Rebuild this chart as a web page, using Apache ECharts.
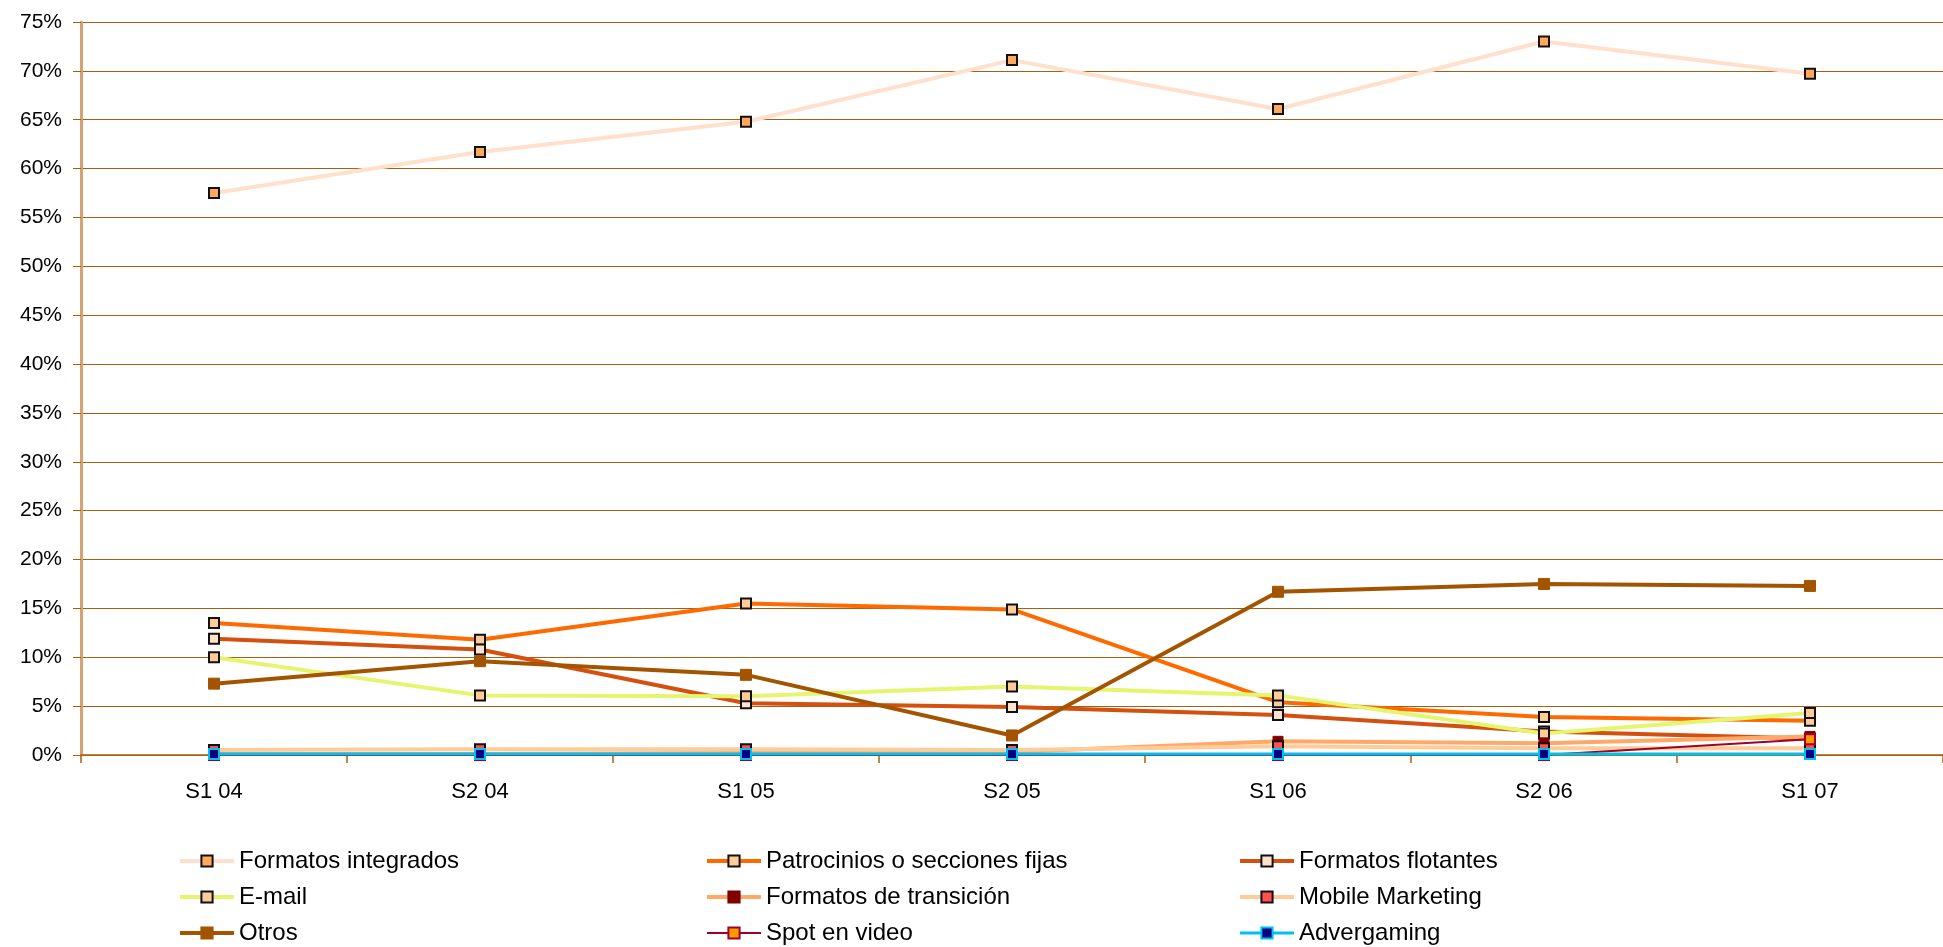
<!DOCTYPE html>
<html>
<head>
<meta charset="utf-8">
<title>Formatos publicitarios</title>
<script src="https://cdn.jsdelivr.net/npm/echarts@6/dist/echarts.min.js"></script>
<style>
  html, body { margin: 0; padding: 0; background: #ffffff; }
  #chart { width: 1943px; height: 947px; }
</style>
</head>
<body>
<div id="chart"></div>
<script>
// Periods (semesters)
const categories = ['S1 04', 'S2 04', 'S1 05', 'S2 05', 'S1 06', 'S2 06', 'S1 07'];

// Share of each format, in percent
const formatosIntegrados   = [57.5, 61.7, 64.8, 71.1, 66.1, 73.0, 69.7];
const patrocinios          = [13.5, 11.8, 15.5, 14.9, 5.4, 3.9, 3.5];
const formatosFlotantes    = [11.9, 10.8, 5.3, 4.9, 4.1, 2.4, 1.7];
const email                = [10.0, 6.1, 6.0, 7.0, 6.1, 2.2, 4.3];
const formatosTransicion   = [0.1, 0.1, 0.2, 0.3, 1.4, 1.2, 1.9];
const mobileMarketing      = [0.5, 0.6, 0.6, 0.5, 0.9, 0.7, 0.7];
const otros                = [7.3, 9.6, 8.2, 2.0, 16.7, 17.5, 17.3];
const spotVideo            = [0, 0, 0, 0, 0, 0, 1.6];
const advergaming          = [0.1, 0.1, 0.1, 0.1, 0.1, 0.1, 0.1];

// Y axis range (percent)
const yMin = 0, yMax = 75, yStep = 5;

const FONT = '"Liberation Sans", Arial, sans-serif';
const GRID_BROWN = '#A8600F';

function lineSeries(name, data, lineColor, width, fill, border, size, borderWidth) {
  return {
    name: name,
    type: 'line',
    data: data,
    symbol: 'rect',
    symbolSize: size,
    showSymbol: true,
    lineStyle: { color: lineColor, width: width },
    itemStyle: { color: fill, borderColor: border, borderWidth: borderWidth },
    emphasis: { disabled: true },
    animation: false
  };
}

const series = [
  lineSeries('Formatos integrados', formatosIntegrados, '#FFE0CC', 4, '#FFA95E', '#111111', 10, 2),
  lineSeries('Patrocinios o secciones fijas', patrocinios, '#FF6A00', 4, '#FFCC99', '#111111', 10, 2),
  lineSeries('Formatos flotantes', formatosFlotantes, '#D4500F', 4, '#FFE2CC', '#111111', 10, 2),
  lineSeries('E-mail', email, '#E6F56E', 4, '#FFCC99', '#111111', 10, 2),
  lineSeries('Formatos de transición', formatosTransicion, '#FFA868', 4, '#800000', '#800000', 10, 1),
  lineSeries('Mobile Marketing', mobileMarketing, '#FFCC99', 4, '#FF5050', '#111111', 10, 2),
  lineSeries('Otros', otros, '#A35400', 4, '#A35400', '#A35400', 11, 1),
  lineSeries('Spot en video', spotVideo, '#A0002A', 2, '#FF9900', '#A0002A', 10, 2),
  lineSeries('Advergaming', advergaming, '#00C0F0', 3, '#000080', '#00C0F0', 10, 2)
];

function legendColumn(left, names) {
  return {
    data: names,
    orient: 'vertical',
    left: left,
    top: 849,
    itemWidth: 54,
    itemHeight: 14,
    itemGap: 12,
    selectedMode: false,
    lineStyle: { width: 'inherit' },
    textStyle: { fontFamily: FONT, fontSize: 24, color: '#000000', lineHeight: 24, padding: [0, 0, 0, 0] },
    padding: 0
  };
}

const chart = echarts.init(document.getElementById('chart'), null, { renderer: 'canvas' });
chart.setOption({
  animation: false,
  backgroundColor: '#ffffff',
  grid: { left: 81, top: 22, width: 1872, height: 733, containLabel: false },
  xAxis: {
    type: 'category',
    data: categories,
    boundaryGap: true,
    axisLine: { show: true, lineStyle: { color: GRID_BROWN, width: 1.5 } },
    axisTick: { show: true, length: 8, alignWithLabel: false, lineStyle: { color: GRID_BROWN, width: 1.5 } },
    axisLabel: { fontFamily: FONT, fontSize: 22, color: '#000000', margin: 26 },
    splitLine: { show: false }
  },
  yAxis: {
    type: 'value',
    min: yMin,
    max: yMax,
    interval: yStep,
    axisLine: { show: true, lineStyle: { color: '#D4A373', width: 3 } },
    axisTick: { show: true, length: 8, lineStyle: { color: GRID_BROWN, width: 1 } },
    axisLabel: { fontFamily: FONT, fontSize: 21, color: '#000000', margin: 19, formatter: '{value}%' },
    splitLine: { show: true, lineStyle: { color: GRID_BROWN, width: 1.2 } }
  },
  legend: [
    legendColumn(178, ['Formatos integrados', 'E-mail', 'Otros']),
    legendColumn(705, ['Patrocinios o secciones fijas', 'Formatos de transición', 'Spot en video']),
    legendColumn(1238, ['Formatos flotantes', 'Mobile Marketing', 'Advergaming'])
  ],
  series: series
});
</script>
</body>
</html>
